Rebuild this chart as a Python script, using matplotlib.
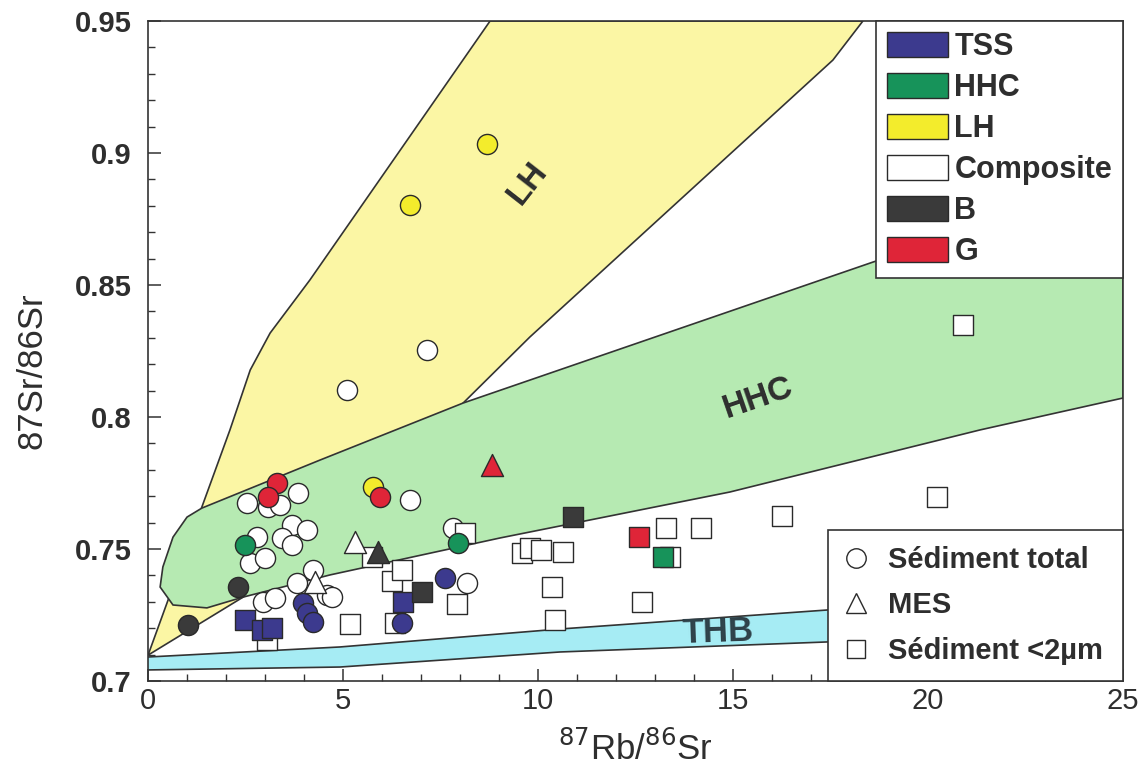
import numpy as np
import matplotlib
matplotlib.use('Agg')
import matplotlib.pyplot as plt
from matplotlib.patches import Polygon, Patch
from matplotlib.lines import Line2D
from matplotlib.ticker import MultipleLocator

plt.rcParams['font.family'] = ['Liberation Sans', 'DejaVu Sans']
txt = '#2e2e2e'

# --- domain outlines (Rb/Sr, Sr/Sr) ---
lh_x = [0.0, 1.38, 2.10, 2.62, 3.13, 4.15, 8.77, 18.33, 17.56, 9.79, 8.08, 2.44, 0.0]
lh_y = [0.7098, 0.7659, 0.7951, 0.8178, 0.8318, 0.8519, 0.95, 0.95, 0.9352, 0.8303, 0.8053, 0.7318, 0.7098]

hhc_x = [0.31, 0.38, 0.64, 1.00, 1.38, 4.41, 8.08, 18.59, 25.0, 25.0, 21.33, 14.92, 9.03, 4.67, 2.44, 1.51, 0.64]
hhc_y = [0.7356, 0.7432, 0.7545, 0.7621, 0.7655, 0.7837, 0.8053, 0.8587, 0.8898,
         0.8072, 0.7951, 0.7716, 0.7542, 0.7402, 0.7318, 0.7277, 0.7288]

thb_top_x = [0.0, 4.92, 10.56, 17.41, 25.0]
thb_top_y = [0.7091, 0.7129, 0.7197, 0.7269, 0.7345]
thb_bot_x = [0.0, 4.92, 10.56, 17.41, 25.0]
thb_bot_y = [0.7042, 0.7053, 0.7110, 0.7148, 0.7201]

# --- Sediment total (circles) ---
tot_comp_x = [5.10, 7.15, 2.54, 3.08, 3.38, 3.85, 2.79, 2.62, 3.00, 3.69, 4.08, 3.44, 3.69,
              4.23, 3.82, 2.95, 3.26, 4.59, 4.72, 6.72, 7.82, 8.18]
tot_comp_y = [0.8102, 0.8254, 0.7674, 0.7659, 0.7667, 0.7712, 0.7545, 0.7447, 0.7466, 0.7591,
              0.7572, 0.7542, 0.7515, 0.7420, 0.7371, 0.7299, 0.7314, 0.7326, 0.7318, 0.7686,
              0.7580, 0.7371]
tot_tss_x = [3.97, 4.08, 4.23, 7.62, 6.51]
tot_tss_y = [0.7295, 0.7258, 0.7223, 0.7390, 0.7220]
tot_hhc_x = [2.49, 7.95]
tot_hhc_y = [0.7515, 0.7523]
tot_lh_x = [6.72, 8.69, 5.77]
tot_lh_y = [0.8803, 0.9034, 0.7735]
tot_b_x = [2.31, 1.03]
tot_b_y = [0.7356, 0.7212]
tot_g_x = [3.31, 3.08, 5.95]
tot_g_y = [0.7750, 0.7697, 0.7697]

# --- MES (triangles) ---
mes_comp_x = [5.31, 4.28]
mes_comp_y = [0.7527, 0.7375]
mes_b_x = [5.90]
mes_b_y = [0.7489]
mes_g_x = [8.82]
mes_g_y = [0.7818]

# --- Sediment <2um (squares) ---
fin_comp_x = [3.05, 5.18, 6.33, 6.26, 6.51, 5.74, 8.13, 7.92, 9.59, 9.79, 10.08, 10.64, 10.36,
              10.44, 12.67, 13.28, 14.18, 16.26, 20.23, 20.90, 13.38]
fin_comp_y = [0.7155, 0.7216, 0.7220, 0.7379, 0.7420, 0.7470, 0.7561, 0.7292, 0.7485, 0.7504,
              0.7496, 0.7489, 0.7356, 0.7231, 0.7299, 0.7580, 0.7580, 0.7625, 0.7697, 0.8349,
              0.7470]
fin_tss_x = [2.49, 2.92, 3.18, 6.54]
fin_tss_y = [0.7231, 0.7193, 0.7201, 0.7299]
fin_hhc_x = [13.21]
fin_hhc_y = [0.7470]
fin_b_x = [7.03, 10.90]
fin_b_y = [0.7337, 0.7621]
fin_g_x = [12.59]
fin_g_y = [0.7545]

c_tss = '#3c3a8e'
c_hhc = '#17935a'
c_lh = '#f3ec2c'
c_b = '#3a3a3a'
c_g = '#df2538'
edge = '#2a2a2a'

fig = plt.figure(figsize=(11.44, 7.69), dpi=100)
ax = fig.add_axes([0.1294, 0.1144, 0.8523, 0.8583])
ax.set_xlim(0, 25)
ax.set_ylim(0.7, 0.95)

# domains
ax.add_patch(Polygon(np.column_stack([lh_x, lh_y]), closed=True, fc='#fbf6a4', ec='#333333', lw=1.2, zorder=1))
ax.add_patch(Polygon(np.column_stack([hhc_x, hhc_y]), closed=True, fc='#b6eab2', ec='#333333', lw=1.2, zorder=2))
ax.fill_between(thb_top_x, thb_bot_y, thb_top_y, fc='#a6ecf4', ec='none', zorder=2)
ax.plot(thb_top_x, thb_top_y, color='#333333', lw=1.2, zorder=2)
ax.plot(thb_bot_x, thb_bot_y, color='#333333', lw=1.2, zorder=2)

ax.text(9.74, 0.8886, 'LH', rotation=52, fontsize=24, fontweight='bold', color=txt, ha='center', va='center', zorder=3)
ax.text(15.64, 0.8072, 'HHC', rotation=19, fontsize=24, fontweight='bold', color=txt, ha='center', va='center', zorder=3)
ax.text(14.62, 0.7186, 'THB', rotation=2, fontsize=25, fontweight='bold', color='#2e4048', ha='center', va='center', zorder=3)

ms = 210
kw = dict(edgecolors=edge, linewidths=1.0)
ax.scatter(tot_comp_x, tot_comp_y, s=ms, marker='o', c='white', zorder=4, **kw)
ax.scatter(fin_comp_x, fin_comp_y, s=ms, marker='s', c='white', zorder=5, **kw)
for xs, ys, col in [(tot_tss_x, tot_tss_y, c_tss), (tot_hhc_x, tot_hhc_y, c_hhc), (tot_lh_x, tot_lh_y, c_lh),
                    (tot_b_x, tot_b_y, c_b), (tot_g_x, tot_g_y, c_g)]:
    ax.scatter(xs, ys, s=ms, marker='o', c=col, zorder=6, **kw)
for xs, ys, col in [(fin_tss_x, fin_tss_y, c_tss), (fin_hhc_x, fin_hhc_y, c_hhc),
                    (fin_b_x, fin_b_y, c_b), (fin_g_x, fin_g_y, c_g)]:
    ax.scatter(xs, ys, s=ms, marker='s', c=col, zorder=6, **kw)
ax.scatter(mes_comp_x, mes_comp_y, s=ms * 1.2, marker='^', c='white', zorder=7, **kw)
ax.scatter(mes_b_x, mes_b_y, s=ms * 1.2, marker='^', c=c_b, zorder=7, **kw)
ax.scatter(mes_g_x, mes_g_y, s=ms * 1.2, marker='^', c=c_g, zorder=7, **kw)

# axes styling
for sp in ax.spines.values():
    sp.set_linewidth(1.2)
    sp.set_color('#333333')
ax.xaxis.set_major_locator(MultipleLocator(5))
ax.xaxis.set_minor_locator(MultipleLocator(1))
ax.yaxis.set_major_locator(MultipleLocator(0.05))
ax.yaxis.set_minor_locator(MultipleLocator(0.01))
ax.tick_params(which='both', direction='in', top=False, right=False, color='#333333')
ax.tick_params(which='major', length=9, width=1.1)
ax.tick_params(which='minor', length=5, width=1.0)
ax.set_yticks([0.7, 0.75, 0.8, 0.85, 0.9, 0.95])
ax.set_yticklabels(['0.7', '0.75', '0.8', '0.85', '0.9', '0.95'], fontsize=21, fontweight='bold', color=txt)
ax.set_xticks([0, 5, 10, 15, 20, 25])
ax.set_xticklabels(['0', '5', '10', '15', '20', '25'], fontsize=21, color=txt)
ax.tick_params(axis='x', pad=4)
ax.tick_params(axis='y', pad=12)

ax.set_xlabel(r'$^{87}$Rb/$^{86}$Sr', fontsize=25, color=txt, labelpad=12)
ax.set_ylabel('87Sr/86Sr', fontsize=25, color=txt)
ax.yaxis.set_label_coords(-0.102, 0.47)

# legends
src_handles = [Patch(fc=c, ec=edge, lw=1.0) for c in [c_tss, c_hhc, c_lh, 'white', c_b, c_g]]
src_labels = ['TSS', 'HHC', 'LH', 'Composite', 'B', 'G']
leg1 = ax.legend(src_handles, src_labels, loc='upper right', bbox_to_anchor=(1, 1), borderaxespad=0,
                 prop={'size': 22, 'weight': 'bold'}, handlelength=2.0, handleheight=0.88,
                 labelspacing=0.36, handletextpad=0.2, borderpad=0.36, fancybox=False,
                 framealpha=1, edgecolor='#333333')
leg1.get_frame().set_linewidth(1.2)
for t in leg1.get_texts():
    t.set_color(txt)
leg1.set_zorder(10)
ax.add_artist(leg1)

typ_handles = [Line2D([], [], ls='none', marker=m, mfc='white', mec=edge, mew=1.0, markersize=s)
               for m, s in [('o', 14), ('^', 15), ('s', 13)]]
typ_labels = ['Sédiment total', 'MES', 'Sédiment <2µm']
leg2 = ax.legend(typ_handles, typ_labels, loc='lower left', bbox_to_anchor=(0.6974, 0, 0.3026, 0.2),
                 mode='expand', borderaxespad=0,
                 prop={'size': 21, 'weight': 'bold'}, handlelength=0.8, labelspacing=0.6,
                 handletextpad=0.7, borderpad=0.55, fancybox=False, framealpha=1, edgecolor='#333333')
leg2.get_frame().set_linewidth(1.2)
for t in leg2.get_texts():
    t.set_color(txt)
leg2.set_zorder(10)

fig.savefig('out.png', dpi=100)
